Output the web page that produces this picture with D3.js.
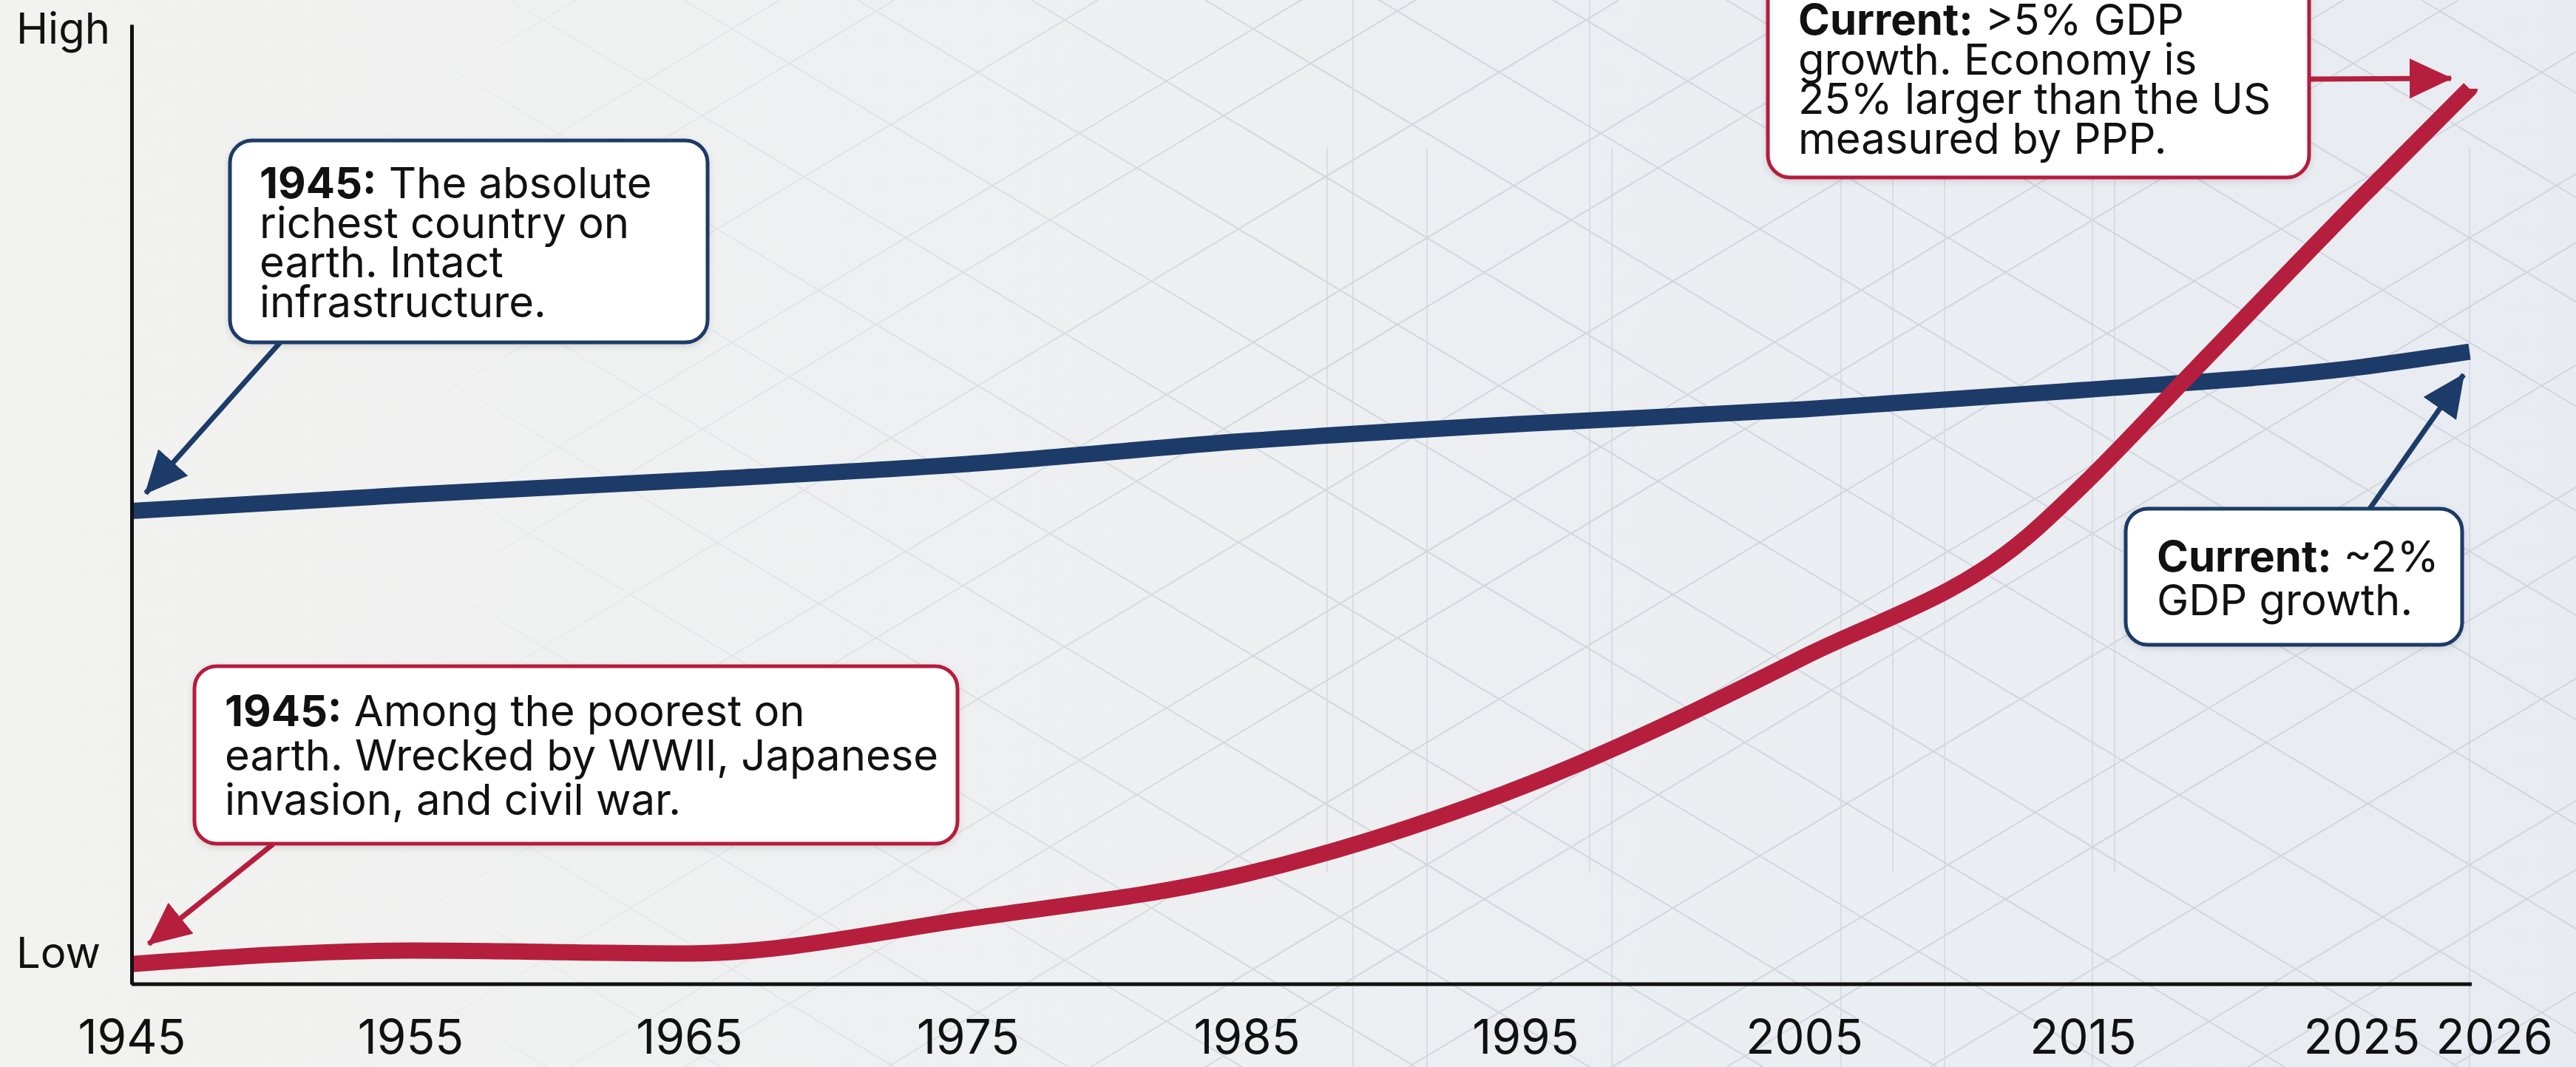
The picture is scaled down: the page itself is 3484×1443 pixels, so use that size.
<!DOCTYPE html>
<html>
<head>
<meta charset="utf-8">
<script src="https://cdn.jsdelivr.net/npm/d3@7"></script>
<style>
html, body { margin: 0; padding: 0; background: #eeeff0; }
svg { display: block; font-family: Inter, "Noto Sans", sans-serif; }
</style>
</head>
<body>
<svg id="chart" width="3484" height="1443"></svg>
<script>
// relative economic level, 0 = low, 100 = high
var years_us = [1945, 1955, 1965, 1975, 1985, 1995, 2005, 2015, 2025, 2026];
var values_us = [49.3, 51.0, 52.5, 54.2, 56.6, 58.4, 59.9, 61.9, 64.3, 65.9];

var years_china = [1945, 1955, 1965, 1975, 1985, 1995, 2005, 2013, 2015, 2019, 2025, 2026];
var values_china = [2.1, 3.5, 3.2, 6.8, 11.5, 20.7, 34.1, 46.6, 52.0, 64.0, 82.0, 93.3];

var tick_years = [1945, 1955, 1965, 1975, 1985, 1995, 2005, 2015, 2025, 2026];
var level_ticks = [3.2, 99.5];
var level_labels = ["Low", "High"];

var BLUE = "#1d3b68", RED = "#b51f3d";

var notes = [
    { color: BLUE, box: [311, 190, 646, 273], text_x: 351, baseline: 268, line_h: 53.5,
      lines: [["1945:", " The absolute"], ["", "richest country on"], ["", "earth. Intact"], ["", "infrastructure."]],
      from: [379, 463], target: { year: 1945, value: 49.3, dx: 19, dy: -24 } },
    { color: RED, box: [263, 901, 1032, 240], text_x: 304, baseline: 982, line_h: 60,
      lines: [["1945:", " Among the poorest on"], ["", "earth. Wrecked by WWII, Japanese"], ["", "invasion, and civil war."]],
      from: [370, 1141], target: { year: 1945, value: 2.1, dx: 23, dy: -27 } },
    { color: RED, box: [2391, -30, 732, 270], text_x: 2432, baseline: 47, line_h: 53.5,
      lines: [["Current:", " >5% GDP"], ["", "growth. Economy is"], ["", "25% larger than the US"], ["", "measured by PPP."]],
      from: [3123, 107], target: { year: 2026, value: 93.3, dx: -25, dy: -14 } },
    { color: BLUE, box: [2875, 688, 455, 184], text_x: 2917, baseline: 773, line_h: 59,
      lines: [["Current:", " ~2%"], ["", "GDP growth."]],
      from: [3205, 688], target: { year: 2026, value: 65.9, dx: -8, dy: 31 } }
];

var svg = d3.select("#chart");
var defs = svg.append("defs");

var bg = defs.append("linearGradient").attr("id", "bg").attr("x1", 0).attr("x2", 1).attr("y1", 0).attr("y2", 0);
bg.append("stop").attr("offset", 0).attr("stop-color", "#f2f2f0");
bg.append("stop").attr("offset", 1).attr("stop-color", "#e8ecf2");

var fade = defs.append("linearGradient").attr("id", "fade").attr("x1", 0).attr("x2", 1).attr("y1", 0).attr("y2", 0);
fade.append("stop").attr("offset", 0.12).attr("stop-color", "#fff").attr("stop-opacity", 0);
fade.append("stop").attr("offset", 0.5).attr("stop-color", "#fff").attr("stop-opacity", 1);
defs.append("mask").attr("id", "fade-mask")
    .append("rect").attr("width", 3484).attr("height", 1443).attr("fill", "url(#fade)");

defs.append("filter").attr("id", "soft").attr("x", -0.1).attr("y", -0.1).attr("width", 1.2).attr("height", 1.3)
    .append("feDropShadow").attr("dx", 0).attr("dy", 3).attr("stdDeviation", 5)
    .attr("flood-color", "#000").attr("flood-opacity", 0.12);

["blue", "red"].forEach(function(name) {
    defs.append("marker")
        .attr("id", "head-" + name)
        .attr("markerUnits", "userSpaceOnUse")
        .attr("viewBox", "0 0 58 54")
        .attr("refX", 56).attr("refY", 27)
        .attr("markerWidth", 58).attr("markerHeight", 54)
        .attr("orient", "auto")
        .append("path")
        .attr("d", "M0,0 L58,27 L0,54 Z")
        .attr("fill", name === "blue" ? BLUE : RED);
});

svg.append("rect").attr("width", 3484).attr("height", 1443).attr("fill", "url(#bg)");

// faint drafting lines in the background
var decor = svg.append("g").attr("mask", "url(#fade-mask)")
    .attr("stroke", "#c3c7d4").attr("stroke-width", 2).attr("fill", "none").attr("opacity", 0.6);
d3.range(-2600, 3600, 235).forEach(function(c, i) {
    decor.append("line").attr("x1", c).attr("y1", 0).attr("x2", c + 2400).attr("y2", 1443);
    decor.append("line").attr("x1", c + 2400 + (i % 3) * 40).attr("y1", 0).attr("x2", c + (i % 3) * 40).attr("y2", 1443);
});
[1795, 1830, 1930, 2150, 2180, 2490, 2560, 2630, 2830, 2860, 3340].forEach(function(x, i) {
    decor.append("line").attr("x1", x).attr("x2", x)
        .attr("y1", i % 2 ? 0 : 200).attr("y2", i % 3 ? 1443 : 1180)
        .attr("stroke-width", 1.5);
});

var x = d3.scaleLinear().domain([1945, 2025, 2026]).range([178, 3194, 3340]);
var y = d3.scaleLinear().domain([0, 100]).range([1331, 33]);

var line = d3.line()
    .x(function(d) { return x(d[0]); })
    .y(function(d) { return y(d[1]); })
    .curve(d3.curveMonotoneX);

svg.append("path")
    .datum(d3.zip(years_us, values_us))
    .attr("d", line)
    .attr("fill", "none").attr("stroke", BLUE).attr("stroke-width", 22);

svg.append("path")
    .datum(d3.zip(years_china, values_china))
    .attr("d", line)
    .attr("fill", "none").attr("stroke", RED).attr("stroke-width", 22)
    .attr("stroke-linejoin", "round");

// axes
var xAxis = svg.append("g")
    .attr("transform", "translate(0," + y(0) + ")")
    .call(d3.axisBottom(x).tickValues(tick_years).tickFormat(d3.format("d")).tickSize(0).tickSizeOuter(0).tickPadding(49));
xAxis.select(".domain").attr("stroke", "#111").attr("stroke-width", 5).attr("d", "M178,0H3343");
xAxis.selectAll("text")
    .attr("font-size", 64).attr("fill", "#111").attr("font-family", "Inter, sans-serif")
    .attr("dx", function(d) { return d === 2026 ? 33 : 0; });

var yAxis = svg.append("g")
    .attr("transform", "translate(" + x(1945) + ",0)")
    .call(d3.axisLeft(y).tickValues(level_ticks)
        .tickFormat(function(d, i) { return level_labels[i]; })
        .tickSize(0).tickSizeOuter(0));
yAxis.select(".domain").attr("stroke", "#111").attr("stroke-width", 5);
yAxis.selectAll("text")
    .attr("font-size", 58).attr("fill", "#111").attr("font-family", "Inter, sans-serif")
    .attr("text-anchor", "start").attr("x", 22 - 178);

// annotations
notes.forEach(function(n) {
    var head = n.color === BLUE ? "blue" : "red";
    var tx = x(n.target.year) + n.target.dx, ty = y(n.target.value) + n.target.dy;
    svg.append("line")
        .attr("x1", n.from[0]).attr("y1", n.from[1])
        .attr("x2", tx).attr("y2", ty)
        .attr("stroke", n.color).attr("stroke-width", 7)
        .attr("marker-end", "url(#head-" + head + ")");

    var g = svg.append("g");
    g.append("rect")
        .attr("x", n.box[0]).attr("y", n.box[1])
        .attr("width", n.box[2]).attr("height", n.box[3])
        .attr("rx", 30)
        .attr("fill", "#fff").attr("stroke", n.color).attr("stroke-width", 5)
        .attr("filter", "url(#soft)");

    var t = g.append("text").attr("font-size", 58).attr("fill", "#111");
    n.lines.forEach(function(parts, i) {
        var row = t.append("tspan").attr("x", n.text_x).attr("y", n.baseline + i * n.line_h);
        if (parts[0]) row.append("tspan").attr("font-weight", 700).text(parts[0]);
        row.append("tspan").text(parts[1]);
    });
});
</script>
</body>
</html>
